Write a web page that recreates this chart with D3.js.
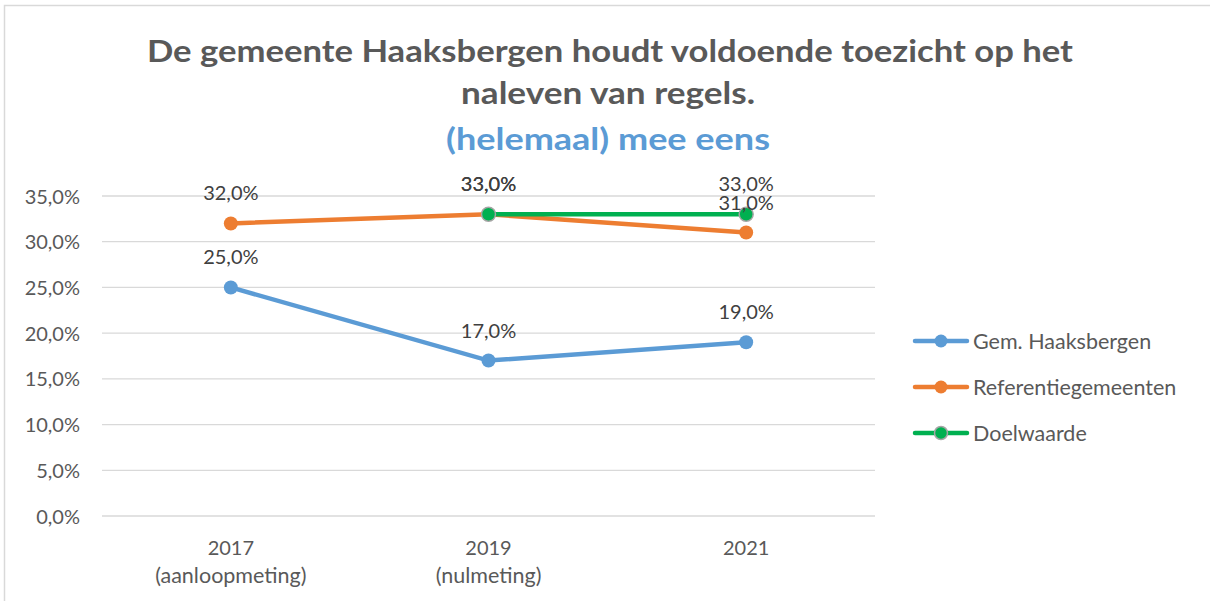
<!DOCTYPE html>
<html><head><meta charset="utf-8">
<script src="https://cdn.jsdelivr.net/npm/d3@7"></script>
<style>body{margin:0;background:#fff}svg{display:block}</style>
</head><body>
<svg id="c" width="1210" height="601"></svg>
<script>
const categories = [["2017","(aanloopmeting)"],["2019","(nulmeting)"],["2021",""]];
const haaksbergen = [25, 17, 19];
const referentie = [32, 33, 31];
const doelwaarde = [null, 33, 33];
const yTicks = [0,5,10,15,20,25,30,35];
const titleLines = ["De gemeente Haaksbergen houdt voldoende toezicht op het","naleven van regels."];
const subtitle = "(helemaal) mee eens";
const seriesNames = ["Gem. Haaksbergen","Referentiegemeenten","Doelwaarde"];

const svg = d3.select("#c");
const font = "Lato, 'Open Sans', sans-serif";
const fs = 20;
const fsText = 21.5;
const fmt = v => v.toFixed(1).replace(".", ",") + "%";

// border
svg.append("rect").attr("x",4.5).attr("y",5.5).attr("width",1220).attr("height",620)
  .attr("fill","none").attr("stroke","#d9d9d9").attr("stroke-width",1.5);

const x = d3.scaleBand().domain(categories.map((d,i)=>i)).range([102,875]);
const y = d3.scaleLinear().domain([0,35]).range([516,196]);

// gridlines
svg.append("g").selectAll("line").data(yTicks).join("line")
  .attr("x1",102).attr("x2",875).attr("y1",d=>y(d)).attr("y2",d=>y(d))
  .attr("stroke","#d9d9d9").attr("stroke-width",1.3);

// y axis labels
const yAxis = svg.append("g").attr("transform","translate(80,0)")
  .call(d3.axisLeft(y).tickValues(yTicks).tickFormat(fmt).tickSize(0).tickPadding(0));
yAxis.select(".domain").remove();
yAxis.selectAll("text").attr("font-family",font).attr("font-size",fs).attr("fill","#595959").attr("dy","0.35em");

// x axis labels
const xAxis = svg.append("g").attr("transform","translate(0,516)")
  .call(d3.axisBottom(x).tickFormat(()=>"").tickSize(0));
xAxis.select(".domain").remove();
xAxis.selectAll(".tick").each(function(d){
  const t = d3.select(this).select("text").attr("font-family",font).attr("font-size",fsText).attr("fill","#595959").attr("y",0).attr("dy",null);
  t.append("tspan").attr("x",0).attr("y",39).attr("font-size",fs).text(categories[d][0]);
  if (categories[d][1]) t.append("tspan").attr("x",0).attr("y",67).text(categories[d][1]);
});

const cx = i => x(i) + x.bandwidth()/2;
const line = d3.line().defined(d=>d!=null).x((d,i)=>cx(i)).y(d=>y(d));

const series = [
  {name:seriesNames[0], data:haaksbergen, color:"#5B9BD5", stroke:null},
  {name:seriesNames[1], data:referentie, color:"#ED7D31", stroke:null},
  {name:seriesNames[2], data:doelwaarde, color:"#00B050", stroke:"#a5a5a5"}
];

series.forEach(s=>{
  svg.append("path").datum(s.data).attr("d",line).attr("fill","none")
    .attr("stroke",s.color).attr("stroke-width",4.5).attr("stroke-linecap","round");
  svg.append("g").selectAll("circle").data(s.data.map((v,i)=>({v,i})).filter(d=>d.v!=null)).join("circle")
    .attr("cx",d=>cx(d.i)).attr("cy",d=>y(d.v)).attr("r",7)
    .attr("fill",s.color).attr("stroke",s.stroke||"none").attr("stroke-width",1.5);
});

// data labels
series.forEach(s=>{
  svg.append("g").selectAll("text").data(s.data.map((v,i)=>({v,i})).filter(d=>d.v!=null)).join("text")
    .attr("x",d=>cx(d.i)).attr("y",d=>y(d.v)-23).attr("text-anchor","middle")
    .attr("font-family",font).attr("font-size",fs).attr("fill","#404040").text(d=>fmt(d.v));
});

// title
svg.append("text").attr("x",610).attr("y",62).attr("text-anchor","middle")
  .attr("font-family",font).attr("font-weight","bold").attr("font-size",31).attr("fill","#595959")
  .attr("textLength",926).attr("lengthAdjust","spacingAndGlyphs").text(titleLines[0]);
svg.append("text").attr("x",608).attr("y",104).attr("text-anchor","middle")
  .attr("font-family",font).attr("font-weight","bold").attr("font-size",31).attr("fill","#595959")
  .attr("textLength",294).attr("lengthAdjust","spacingAndGlyphs").text(titleLines[1]);
svg.append("text").attr("x",608).attr("y",150).attr("text-anchor","middle")
  .attr("font-family",font).attr("font-weight","bold").attr("font-size",31).attr("fill","#5B9BD5")
  .attr("textLength",324).attr("lengthAdjust","spacingAndGlyphs").text(subtitle);

// legend
const lg = svg.append("g");
series.forEach((s,i)=>{
  const ly = 341 + i*46;
  lg.append("line").attr("x1",915).attr("x2",967).attr("y1",ly).attr("y2",ly)
    .attr("stroke",s.color).attr("stroke-width",4.5).attr("stroke-linecap","round");
  lg.append("circle").attr("cx",941).attr("cy",ly).attr("r",6.5).attr("fill",s.color)
    .attr("stroke",s.stroke||"none").attr("stroke-width",1.5);
  lg.append("text").attr("x",973).attr("y",ly).attr("dy","0.35em")
    .attr("font-family",font).attr("font-size",fsText).attr("fill","#595959").text(s.name);
});
</script>
</body></html>
